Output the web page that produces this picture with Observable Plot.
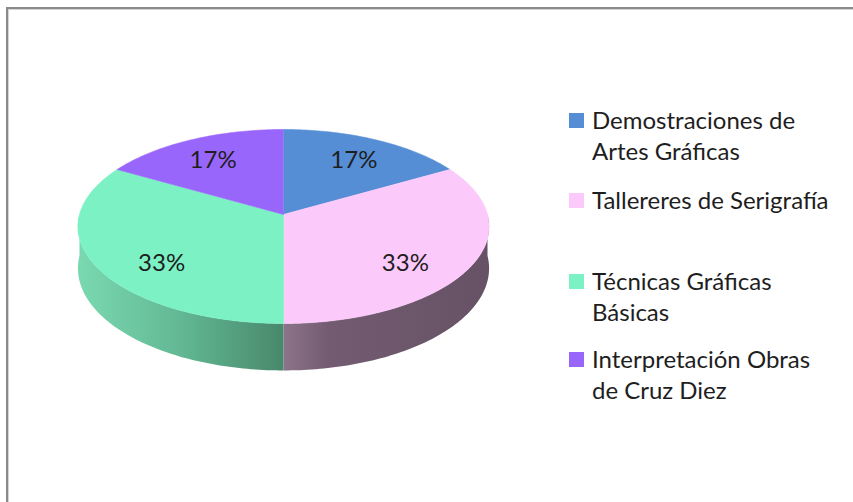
<!DOCTYPE html>
<html>
<head>
<meta charset="utf-8">
<script src="https://cdn.jsdelivr.net/npm/d3@7"></script>
<script src="https://cdn.jsdelivr.net/npm/@observablehq/plot@0.6"></script>
<style>
  html, body { margin: 0; padding: 0; background: #fff; }
  #wrap { position: relative; width: 853px; height: 502px; overflow: hidden; font-family: Lato, "Open Sans", sans-serif; }
  #frame { position: absolute; left: 6px; top: 7px; width: 900px; height: 600px;
           border-top: 2px solid #8a8a8a; border-left: 2px solid #8a8a8a;
           box-shadow: inset 1px 1px 0 #d4d4d4; box-sizing: border-box; }
  #chart { position: absolute; left: 0; top: 0; }
  .entry { position: absolute; left: 569px; color: #1e1e1e; font-size: 24px; line-height: 31px; white-space: nowrap; }
  .entry .sw { position: absolute; left: 0; top: 9px; width: 15px; height: 15px; }
  .entry .tx { position: absolute; left: 23px; top: 0; }
</style>
</head>
<body>
<div id="wrap">
  <div id="frame"></div>
  <div id="chart"></div>
</div>
<script>
// ---- data ----
const categories = ["Demostraciones de Artes Gráficas", "Tallereres de Serigrafía", "Técnicas Gráficas Básicas", "Interpretación Obras de Cruz Diez"];
const legendLines = [["Demostraciones de", "Artes Gráficas"], ["Tallereres de Serigrafía"], ["Técnicas Gráficas", "Básicas"], ["Interpretación Obras", "de Cruz Diez"]];
const values = [1, 2, 2, 1];
const colors = ["#558ed5", "#fcc9fb", "#7cf2c4", "#9966fc"];

// ---- layout / style ----
const P = 0.1237;        // perspective strength
const T = 0.431;         // disk thickness (model units)
const legendTop = [104, 184, 265, 343];
const sideStops = {
  "#fcc9fb": [[0, "#8c7389"], [0.22, "#735c71"], [1, "#665165"]],
  "#7cf2c4": [[0, "#7ad9b0"], [0.5, "#62b893"], [1, "#48886b"]]
};

const total = d3.sum(values);
const arcs = d3.pie().sort(null).value(d => d)(values).map((a, i) => ({
  i, category: categories[i], color: colors[i], value: values[i],
  pct: Math.round(values[i] / total * 100) + "%",
  a0: a.startAngle, a1: a.endAngle, mid: (a.startAngle + a.endAngle) / 2
}));

function proj(theta, r = 1, h = 0) {
  const X = r * Math.sin(theta), Z = r * Math.cos(theta);
  const w = 1 / (1 + P * Z);
  return {x: X * w, y: Z * w - h * w};
}
function angles(a0, a1) {
  const n = Math.max(2, Math.ceil((a1 - a0) / (Math.PI / 180)));
  return d3.range(n + 1).map(k => a0 + (a1 - a0) * k / n);
}

// top faces
const tops = arcs.map(a => ({...a, pts: [{x: 0, y: 0}, ...angles(a.a0, a.a1).map(t => proj(t))]}));
// visible side walls (front half)
const sides = arcs.map(a => {
  const s0 = Math.max(a.a0, Math.PI / 2), s1 = Math.min(a.a1, 3 * Math.PI / 2);
  if (s1 <= s0) return null;
  const ts = angles(s0, s1);
  return {...a, pts: [...ts.map(t => proj(t)), ...ts.slice().reverse().map(t => proj(t, 1, T))]};
}).filter(Boolean);

const labels = arcs.map(a => ({pct: a.pct, x: 0.69 * Math.sin(a.mid), y: 0.789 * Math.cos(a.mid) - 0.118}));

const gradId = c => "side" + c.slice(1);

const defsMark = () => {
  const defs = d3.create("svg:defs");
  for (const s of sides) {
    const g = defs.append("linearGradient").attr("id", gradId(s.color)).attr("x1", 0).attr("x2", 1).attr("y1", 0).attr("y2", 0);
    for (const [o, c] of (sideStops[s.color] || [[0, d3.color(s.color).darker(0.6)], [1, d3.color(s.color).darker(1.2)]])) {
      g.append("stop").attr("offset", o).attr("stop-color", c);
    }
  }
  return defs.node();
};

const chart = Plot.plot({
  width: 853,
  height: 502,
  margin: 0,
  x: {domain: [-1, 1], range: [79, 487], axis: null},
  y: {domain: [-1, 1], range: [309.5, 118.5], axis: null},
  style: {background: "transparent", overflow: "visible"},
  marks: [
    defsMark,
    ...sides.map(s => Plot.line(s.pts, {x: "x", y: "y", fill: `url(#${gradId(s.color)})`, stroke: "none"})),
    ...tops.map(s => Plot.line(s.pts, {x: "x", y: "y", fill: s.color, stroke: s.color, strokeWidth: 0.6})),
    Plot.text(labels, {x: "x", y: "y", text: "pct", fontSize: 24, fill: "#1e1e1e", fontFamily: "Lato, 'Open Sans', sans-serif"})
  ]
});
document.getElementById("chart").appendChild(chart);

// legend (HTML, right of the pie)
const wrap = document.getElementById("wrap");
arcs.forEach((a, i) => {
  const e = document.createElement("div");
  e.className = "entry";
  e.style.top = legendTop[i] + "px";
  const sw = document.createElement("div");
  sw.className = "sw";
  sw.style.background = a.color;
  const tx = document.createElement("div");
  tx.className = "tx";
  tx.innerHTML = legendLines[i].map(l => l.replace(/&/g, "&amp;")).join("<br>");
  e.appendChild(sw); e.appendChild(tx);
  wrap.appendChild(e);
});
</script>
</body>
</html>
